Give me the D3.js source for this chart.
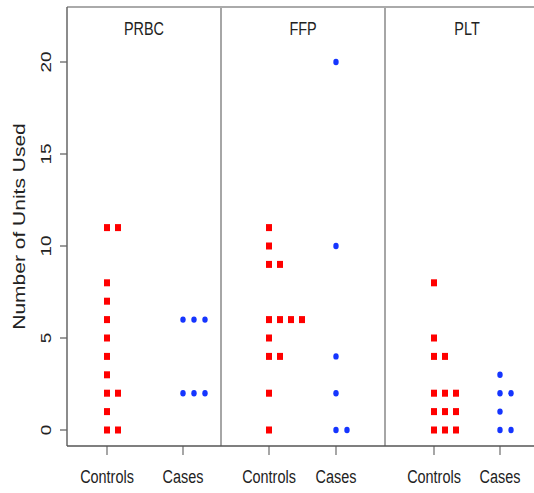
<!DOCTYPE html>
<html>
<head>
<meta charset="utf-8">
<script src="https://cdn.jsdelivr.net/npm/d3@7"></script>
<style>
  html, body { margin: 0; padding: 0; background: #fff; }
  svg { display: block; }
  text { font-family: 'Liberation Sans', Arial, sans-serif; fill: #222; }
</style>
</head>
<body>
<svg id="chart"></svg>
<script>
// 資料
const panels = ['PRBC', 'FFP', 'PLT']
const groups = ['Controls', 'Cases']
const prbcControls = [0, 0, 1, 2, 2, 3, 4, 5, 6, 7, 8, 11, 11]
const prbcCases = [2, 2, 2, 6, 6, 6]
const ffpControls = [0, 2, 4, 4, 5, 6, 6, 6, 6, 9, 9, 10, 11]
const ffpCases = [0, 0, 2, 4, 10, 20]
const pltControls = [0, 0, 0, 1, 1, 1, 2, 2, 2, 4, 4, 5, 8]
const pltCases = [0, 0, 1, 2, 2, 3]
const yTicks = [0, 5, 10, 15, 20]

const series = {
  PRBC: { Controls: prbcControls, Cases: prbcCases },
  FFP: { Controls: ffpControls, Cases: ffpCases },
  PLT: { Controls: pltControls, Cases: pltCases },
}

const width = 534
const height = 493
const boxTop = 7
const boxBottom = 446
const panelEdges = [67, 221, 385, 549]
const panelPad = [[40, 38], [48, 49], [49, 49]] // 每個面板內左右留白
const stackStep = 11
const squeeze = 0.76 // 文字水平壓縮
const fontSize = 19

const svg = d3.select('#chart')
  .attr('width', width)
  .attr('height', height)

svg.append('rect').attr('width', width).attr('height', height).attr('fill', '#fff')

const y = d3.scaleLinear().domain([0, 20]).range([430, 62])

// 水平壓縮的文字
function label(x, yPos, txt, rotate, size) {
  svg.append('text')
    .attr('transform', `translate(${x},${yPos}) scale(${squeeze},1)${rotate ? ' rotate(-90)' : ''}`)
    .attr('text-anchor', 'middle')
    .attr('font-size', size || fontSize)
    .text(txt)
}

panels.forEach((p, i) => {
  const left = panelEdges[i]
  const right = panelEdges[i + 1]
  const x = d3.scalePoint()
    .domain(groups)
    .range([left + panelPad[i][0], right - panelPad[i][1]])

  // 面板標題
  label((left + right) / 2, 35, p)

  groups.forEach((g) => {
    const vals = series[p][g]
    const seen = {}
    const pts = vals.map((v) => {
      const k = seen[v] || 0
      seen[v] = k + 1
      return { v, k }
    })
    const gx = x(g)

    if (g === 'Controls') {
      svg.append('g').attr('fill', '#ff0000')
        .selectAll('rect')
        .data(pts)
        .enter()
        .append('rect')
        .attr('x', d => gx + d.k * stackStep - 3)
        .attr('y', d => y(d.v) - 3.5)
        .attr('width', 6)
        .attr('height', 7)
    }
    else {
      svg.append('g').attr('fill', '#1535ff')
        .selectAll('ellipse')
        .data(pts)
        .enter()
        .append('ellipse')
        .attr('cx', d => gx + d.k * stackStep)
        .attr('cy', d => y(d.v))
        .attr('rx', 2.7)
        .attr('ry', 3.2)
    }

    // x 刻度
    svg.append('line')
      .attr('x1', gx).attr('x2', gx)
      .attr('y1', boxBottom).attr('y2', boxBottom + 9)
      .attr('stroke', '#777').attr('stroke-width', 1.3)
    label(gx, 483, g)
  })

  if (i > 0) {
    svg.append('line')
      .attr('x1', left).attr('x2', left)
      .attr('y1', boxTop).attr('y2', boxBottom)
      .attr('stroke', '#888').attr('stroke-width', 1.5)
  }
})

// 外框
svg.append('line')
  .attr('x1', panelEdges[0]).attr('x2', width)
  .attr('y1', boxTop).attr('y2', boxTop)
  .attr('stroke', '#aaa').attr('stroke-width', 2)
svg.append('line')
  .attr('x1', panelEdges[0]).attr('x2', panelEdges[0])
  .attr('y1', boxTop).attr('y2', boxBottom)
  .attr('stroke', '#666').attr('stroke-width', 1.5)
svg.append('line')
  .attr('x1', panelEdges[0]).attr('x2', width)
  .attr('y1', boxBottom).attr('y2', boxBottom)
  .attr('stroke', '#555').attr('stroke-width', 1.5)

// y 軸
yTicks.forEach((t) => {
  svg.append('line')
    .attr('x1', panelEdges[0] - 7).attr('x2', panelEdges[0])
    .attr('y1', y(t)).attr('y2', y(t))
    .attr('stroke', '#666').attr('stroke-width', 1.3)
  label(51, y(t), String(t), true)
})

label(25, (boxTop + boxBottom) / 2, 'Number of Units Used', true, 21)
</script>
</body>
</html>
